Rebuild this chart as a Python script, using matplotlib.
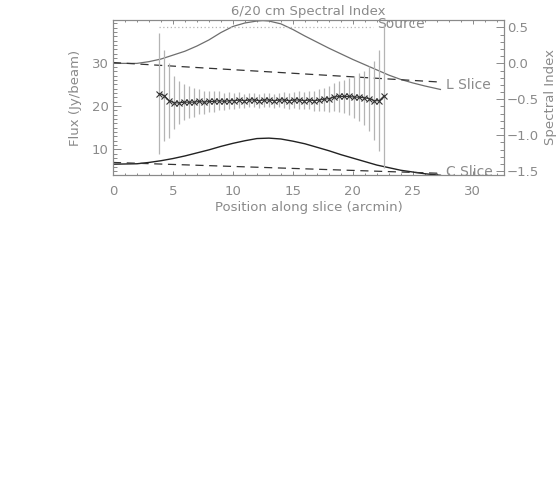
"""
6/20 cm spectral index along a slice, with source / L / C slice profiles.
"""

import matplotlib
matplotlib.use("Agg")
import matplotlib.pyplot as plt

GREY = "#8a8a8a"
LIGHT = "#b4b4b4"

# flux profiles (Jy/beam)
src_x = [0, 2, 3, 4, 5, 6, 7, 8, 9, 10, 11, 12, 12.5, 13, 14, 15, 16, 17,
         18, 19, 20, 21, 22, 23, 24, 25, 26, 27.3]
src_flux = [29.8, 29.8, 30.2, 30.8, 31.7, 32.6, 33.8, 35.2, 36.9, 38.3, 39.1,
            39.55, 39.65, 39.55, 38.9, 37.6, 36.1, 34.7, 33.3, 32.0, 30.7,
            29.5, 28.3, 27.1, 26.1, 25.3, 24.6, 23.8]

c_x = [0, 2, 3, 4, 5, 6, 7, 8, 9, 10, 11, 12, 13, 14, 15, 16, 17, 18, 19,
       20, 21, 22, 23, 24, 25, 26, 27.3]
c_flux = [6.6, 6.7, 7.0, 7.4, 7.9, 8.5, 9.2, 9.9, 10.7, 11.4, 12.0, 12.5,
          12.6, 12.4, 11.9, 11.3, 10.5, 9.7, 8.8, 8.0, 7.2, 6.4, 5.8, 5.2,
          4.8, 4.4, 4.05]

# baselines
l_base_x = [0, 27.3]
l_base_flux = [30.0, 25.5]
c_base_x = [0, 27.3]
c_base_flux = [7.0, 4.5]

dot_x = [3.86, 21.7]
dot_flux = [38.2, 38.2]

# spectral index points (25 arcsec spacing)
si_x = [3.86, 4.28, 4.69, 5.11, 5.53, 5.94, 6.36, 6.78, 7.19, 7.61, 8.03,
        8.44, 8.86, 9.28, 9.69, 10.11, 10.53, 10.94, 11.36, 11.78, 12.19,
        12.61, 13.03, 13.44, 13.86, 14.28, 14.69, 15.11, 15.53, 15.94,
        16.36, 16.78, 17.19, 17.61, 18.03, 18.44, 18.86, 19.28, 19.69,
        20.11, 20.53, 20.94, 21.36, 21.78, 22.19, 22.61]
si_val = [-0.42, -0.45, -0.52, -0.55, -0.55, -0.54, -0.54, -0.54, -0.53,
          -0.54, -0.53, -0.53, -0.52, -0.53, -0.52, -0.52, -0.51, -0.52,
          -0.51, -0.51, -0.52, -0.51, -0.51, -0.52, -0.51, -0.51, -0.52,
          -0.51, -0.51, -0.52, -0.51, -0.52, -0.51, -0.50, -0.49, -0.47,
          -0.46, -0.46, -0.46, -0.47, -0.47, -0.48, -0.49, -0.52, -0.52,
          -0.45]
si_err = [0.84, 0.63, 0.52, 0.37, 0.30, 0.25, 0.22, 0.20, 0.18, 0.16, 0.15,
          0.14, 0.13, 0.12, 0.12, 0.11, 0.11, 0.10, 0.10, 0.10, 0.10, 0.10,
          0.10, 0.10, 0.10, 0.11, 0.11, 0.11, 0.12, 0.12, 0.13, 0.14, 0.15,
          0.16, 0.18, 0.19, 0.21, 0.23, 0.26, 0.29, 0.33, 0.38, 0.45, 0.55,
          0.70, 1.00]

x_ticks = [0, 5, 10, 15, 20, 25, 30]
flux_ticks = [10, 20, 30]
si_ticks = [0.5, 0.0, -0.5, -1.0, -1.5]

plt.rcParams["font.family"] = "DejaVu Sans"
plt.rcParams["font.size"] = 9.5

fig = plt.figure(figsize=(5.59, 5.04), dpi=100)
ax = fig.add_axes([0.2021, 0.6518, 0.6995, 0.3095])
ax2 = ax.twinx()

ax.plot(src_x, src_flux, color="#6e6e6e", lw=0.9)
ax.plot(c_x, c_flux, color="#222222", lw=1.0)
ax.plot(l_base_x, l_base_flux, color="#333333", lw=0.9, dashes=(6.5, 4.5))
ax.plot(c_base_x, c_base_flux, color="#333333", lw=0.9, dashes=(6.5, 4.5))
ax.plot(dot_x, dot_flux, color=LIGHT, lw=0.9, ls=(0, (1, 2)))

ax2.errorbar(si_x, si_val, yerr=si_err, fmt="none", ecolor=LIGHT,
             elinewidth=0.9, capsize=0, zorder=1)
ax2.plot(si_x, si_val, color="#333333", lw=0.8, marker="x", ms=4.5,
         mew=0.8, zorder=3)

ax.set_xlim(0, 32.6)
ax.set_ylim(4, 39.9)
ax2.set_ylim(-1.56, 0.61)

ax.set_xticks(x_ticks)
ax.set_xticks(range(0, 33), minor=True)
ax.set_yticks(flux_ticks)
ax.set_yticks(range(5, 40), minor=True)
ax2.set_yticks(si_ticks)
ax2.set_yticklabels([f"{v:.1f}".replace("-", "\u2212") for v in si_ticks])
ax2.set_yticks([v / 10 for v in range(-15, 7)], minor=True)

for a in (ax, ax2):
    for s in a.spines.values():
        s.set_color(GREY)
        s.set_linewidth(0.8)

ax.tick_params(axis="x", which="both", direction="in", top=True,
               color=GREY, labelcolor=GREY, width=0.7)
ax.tick_params(axis="x", which="major", length=3.0, pad=6.5)
ax.tick_params(axis="x", which="minor", length=1.5)
ax.tick_params(axis="y", which="both", direction="in", right=False,
               color=GREY, labelcolor=GREY, width=0.7)
ax.tick_params(axis="y", which="major", length=5.6, pad=3)
ax.tick_params(axis="y", which="minor", length=2.8)
ax2.tick_params(axis="y", which="both", direction="in", color=GREY,
                labelcolor=GREY, width=0.7)
ax2.tick_params(axis="y", which="major", length=5.6, pad=2)
ax2.tick_params(axis="y", which="minor", length=2.8)

ax.set_title("6/20 cm Spectral Index", color=GREY, fontsize=9.5, pad=3)
ax.set_xlabel("Position along slice (arcmin)", color=GREY)
ax.xaxis.set_label_coords(0.5, -0.165)
ax.set_ylabel("Flux (Jy/beam)", color=GREY)
ax.yaxis.label.set_va("center")
ax.yaxis.set_label_coords(-0.097, 0.5)
ax2.set_ylabel("Spectral Index", color=GREY)
ax2.yaxis.label.set_va("center")
ax2.yaxis.set_label_coords(1.12, 0.5)

ax.text(22.0, 38.9, "Source", color=GREY, va="center", ha="left", fontsize=10)
ax.text(27.75, 24.8, "L Slice", color=GREY, va="center", ha="left", fontsize=10)
ax.text(27.75, 4.8, "C Slice", color=GREY, va="center", ha="left", fontsize=10)

fig.savefig("out.png", dpi=100)
